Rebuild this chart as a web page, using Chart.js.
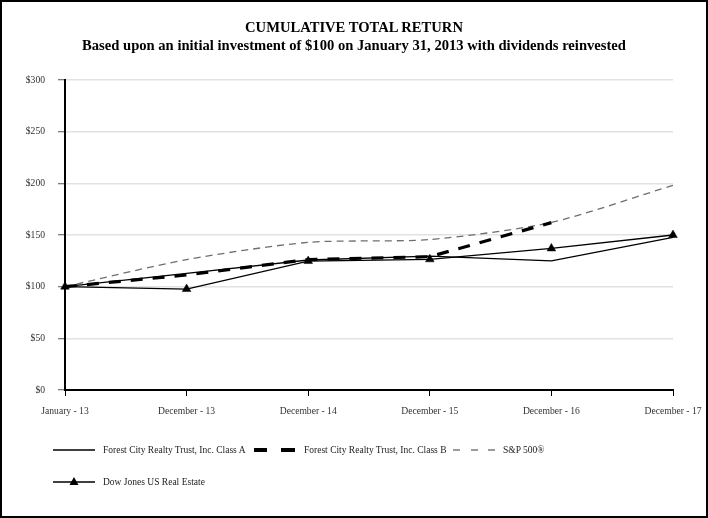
<!DOCTYPE html>
<html>
<head>
<meta charset="utf-8">
<script src="https://cdn.jsdelivr.net/npm/chart.js@4.4.1/dist/chart.umd.min.js"></script>
<style>
  html, body { margin: 0; padding: 0; background: #fff; }
  #wrap { position: relative; width: 708px; height: 518px; overflow: hidden; background: #fff; }
  #c { position: absolute; left: 0; top: 0; }
  #frame { position: absolute; left: 0; top: 0; width: 708px; height: 518px; box-sizing: border-box; border: 2px solid #000; pointer-events: none; }
  .title { position: absolute; left: 0; width: 708px; text-align: center; font-family: "Liberation Serif", "Times New Roman", serif; font-weight: bold; font-size: 14.6px; line-height: 18px; color: #000; white-space: nowrap; }
  .lg { position: absolute; font-family: "Liberation Serif", "Times New Roman", serif; font-size: 9.5px; line-height: 12px; color: #222; white-space: nowrap; }
  .sw { position: absolute; }
</style>
</head>
<body>
<div id="wrap">
  <canvas id="c" width="708" height="518"></canvas>
  <div class="title" style="top:18px;">CUMULATIVE TOTAL RETURN</div>
  <div class="title" style="top:36px;">Based upon an initial investment of $100 on January 31, 2013 with dividends reinvested</div>

  <svg class="sw" style="left:50px;top:444px;" width="50" height="12"><line x1="3" y1="6" x2="45" y2="6" stroke="#000" stroke-width="1.5"/></svg>
  <div class="lg" id="lg0" style="left:103px;top:444px;"></div>

  <svg class="sw" style="left:250px;top:444px;" width="50" height="12"><rect x="4" y="4" width="13" height="4" fill="#000"/><rect x="31" y="4" width="14" height="4" fill="#000"/></svg>
  <div class="lg" id="lg1" style="left:304px;top:444px;"></div>

  <svg class="sw" style="left:450px;top:444px;" width="50" height="12"><line x1="3" y1="6" x2="10" y2="6" stroke="#666" stroke-width="1.3"/><line x1="21" y1="6" x2="28" y2="6" stroke="#666" stroke-width="1.3"/><line x1="38" y1="6" x2="45" y2="6" stroke="#666" stroke-width="1.3"/></svg>
  <div class="lg" id="lg2" style="left:503px;top:444px;"></div>

  <svg class="sw" style="left:50px;top:474px;" width="50" height="16"><line x1="3" y1="8" x2="45" y2="8" stroke="#000" stroke-width="1.5"/><polygon points="24,3 28.5,11 19.5,11" fill="#000"/></svg>
  <div class="lg" id="lg3" style="left:103px;top:476px;"></div>

  <div id="frame"></div>
</div>
<script>
const categories = ["January - 13", "December - 13", "December - 14", "December - 15", "December - 16", "December - 17"];
const seriesNames = ["Forest City Realty Trust, Inc. Class A", "Forest City Realty Trust, Inc. Class B", "S&P 500®", "Dow Jones US Real Estate"];
const classA = [100, 112.8, 125.8, 129.5, 125, 147.8];
const classB = [100, 111.3, 126.3, 129, 162, null];
const sp500 = [100, 126.2, 142.9, 145.6, 162.2, 198.1];
const dowJones = [100, 97.7, 124.8, 126.5, 137, 150];
const yTicks = [0, 50, 100, 150, 200, 250, 300];

seriesNames.forEach((n, i) => { document.getElementById('lg' + i).textContent = n; });

const tickFont = { family: "Liberation Serif", size: 9.6 };

new Chart(document.getElementById('c'), {
  type: 'line',
  data: {
    labels: categories,
    datasets: [
      { label: seriesNames[3], data: dowJones, borderColor: '#000', borderWidth: 1.3, pointStyle: 'triangle', pointRadius: 5, pointBackgroundColor: '#000', pointBorderColor: '#000', pointBorderWidth: 0.5, tension: 0, order: 1 },
      { label: seriesNames[0], data: classA, borderColor: '#000', borderWidth: 1.3, pointRadius: 0, tension: 0, order: 2 },
      { label: seriesNames[1], data: classB, borderColor: '#000', borderWidth: 3.2, borderDash: [12, 10], pointRadius: 0, tension: 0, order: 3 },
      { label: seriesNames[2], data: sp500, borderColor: '#6e6e6e', borderWidth: 1.3, borderDash: [7, 5], pointRadius: 0, tension: 0.25, order: 4 }
    ]
  },
  options: {
    responsive: false,
    animation: false,
    layout: { padding: { left: 0, right: 35, top: 80, bottom: 97 } },
    plugins: { legend: { display: false }, title: { display: false }, tooltip: { enabled: false } },
    scales: {
      x: {
        type: 'category',
        offset: false,
        afterFit: s => { s.height = 31; s.paddingLeft = 0; s.paddingRight = 0; },
        grid: { drawOnChartArea: false, drawTicks: true, tickLength: 6, tickColor: '#000', tickWidth: 1 },
        border: { display: true, color: '#000', width: 2 },
        ticks: { font: tickFont, color: '#333', padding: 10, maxRotation: 0, autoSkip: false }
      },
      y: {
        min: 0, max: 300,
        afterFit: s => { s.width = 65; s.paddingTop = 0; s.paddingBottom = 0; },
        afterBuildTicks: s => { s.ticks = yTicks.map(v => ({ value: v })); },
        grid: { color: '#e2e2e2', lineWidth: 1.5, tickColor: '#555', tickLength: 7, tickWidth: 1 },
        border: { display: true, color: '#000', width: 2 },
        ticks: { font: tickFont, color: '#333', padding: 13, callback: v => '$' + v }
      }
    }
  }
});
</script>
</body>
</html>
